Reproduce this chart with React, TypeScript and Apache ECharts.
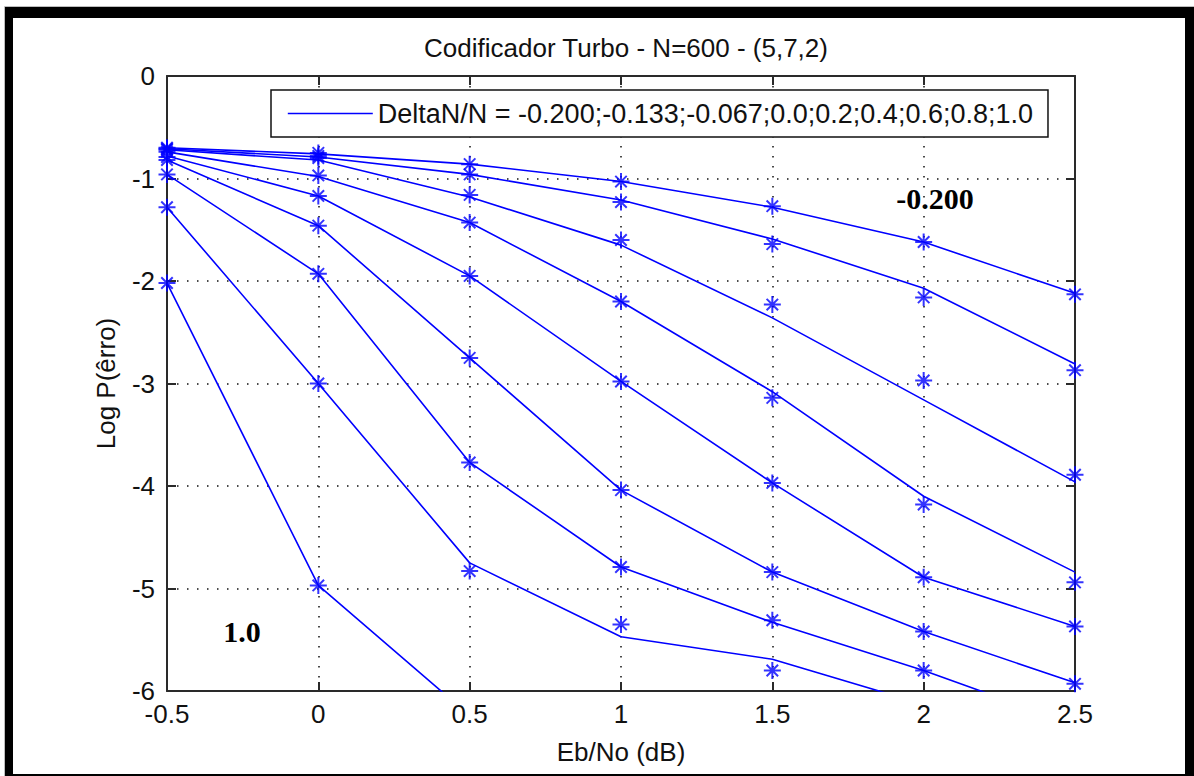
import React, { useEffect, useRef } from "react";
import * as echarts from "echarts";

// Eb/No (dB) sample points
const ebNo = [-0.5, 0, 0.5, 1, 1.5, 2, 2.5];

// DeltaN/N values of the nine curves
const deltaLabels = ["-0.200", "-0.133", "-0.067", "0.0", "0.2", "0.4", "0.6", "0.8", "1.0"];
const legendText = "DeltaN/N = -0.200;-0.133;-0.067;0.0;0.2;0.4;0.6;0.8;1.0";
const titleText = "Codificador Turbo - N=600 - (5,7,2)";

// measured points (asterisk markers), Log P(erro)
const measM0200 = [-0.70, -0.75, -0.86, -1.03, -1.27, -1.62, -2.13];
const measM0133 = [-0.71, -0.78, -0.96, -1.23, -1.64, -2.16, -2.87];
const measM0067 = [-0.72, -0.80, -1.16, -1.60, -2.23, -2.97, -3.89];
const meas0000 = [-0.74, -0.97, -1.43, -2.20, -3.14, -4.18, -4.94];
const meas0200 = [-0.79, -1.17, -1.95, -2.98, -3.97, -4.89, -5.37];
const meas0400 = [-0.82, -1.46, -2.75, -4.04, -4.84, -5.42, -5.93];
const meas0600 = [-0.96, -1.93, -3.77, -4.79, -5.31, -5.80, null];
const meas0800 = [-1.28, -3.00, -4.83, -5.35, -5.80, null, null];
const meas1000 = [-2.02, -4.97, null, null, null, null, null];

// fitted curves (solid lines)
const fitM0200 = [-0.70, -0.76, -0.86, -1.03, -1.28, -1.62, -2.12];
const fitM0133 = [-0.71, -0.79, -0.96, -1.21, -1.59, -2.07, -2.81];
const fitM0067 = [-0.72, -0.82, -1.18, -1.65, -2.36, -3.16, -3.96];
const fit0000 = [-0.74, -0.98, -1.43, -2.20, -3.08, -4.10, -4.84];
const fit0200 = [-0.78, -1.17, -1.95, -2.98, -3.97, -4.89, -5.37];
const fit0400 = [-0.82, -1.46, -2.75, -4.04, -4.84, -5.42, -5.92];
const fit0600 = [-0.96, -1.93, -3.77, -4.79, -5.33, -5.80, -6.33];
const fit0800 = [-1.28, -3.00, -4.75, -5.47, -5.69, -6.13, null];
const fit1000 = [-2.02, -4.97, -6.24, null, null, null, null];

const measured = [measM0200, measM0133, measM0067, meas0000, meas0200, meas0400, meas0600, meas0800, meas1000];
const fitted = [fitM0200, fitM0133, fitM0067, fit0000, fit0200, fit0400, fit0600, fit0800, fit1000];

const xTicks = { min: -0.5, max: 2.5, interval: 0.5 };
const yTicks = { min: -6, max: 0, interval: 1 };

const STAR = "path://M8,0L8,16M0,8L16,8M2.6,2.6L13.4,13.4M2.6,13.4L13.4,2.6";
const BLUE = "#0000ff";
const AXIS = "#2a2a2a";
const SANS = '"Liberation Sans", Arial, sans-serif';
const SERIF = '"Liberation Serif", "Times New Roman", serif';

function pairs(vals: (number | null)[]) {
  const out: [number, number][] = [];
  vals.forEach((v, i) => {
    if (v !== null) out.push([ebNo[i], v]);
  });
  return out;
}

export default function App() {
  const ref = useRef<HTMLDivElement>(null);

  useEffect(() => {
    if (!ref.current) return;
    const chart = echarts.init(ref.current, null, { renderer: "svg" });

    const series: any[] = [];
    fitted.forEach((f, i) => {
      series.push({
        type: "line",
        name: i === 0 ? legendText : "DeltaN/N = " + deltaLabels[i],
        data: pairs(f),
        symbol: "none",
        showSymbol: false,
        clip: true,
        lineStyle: { color: BLUE, width: 1.6 },
        itemStyle: { color: BLUE },
        silent: true,
        z: 3,
      });
    });
    measured.forEach((m, i) => {
      series.push({
        type: "scatter",
        name: "pontos " + deltaLabels[i],
        data: pairs(m),
        symbol: STAR,
        symbolSize: 17,
        clip: true,
        itemStyle: { color: BLUE, borderColor: BLUE, borderWidth: 2 },
        silent: true,
        z: 4,
      });
    });

    const dotted = { color: "#111", width: 1.5, type: [1.5, 8.5] as any };

    const baseX = {
      type: "value" as const,
      min: xTicks.min,
      max: xTicks.max,
      interval: xTicks.interval,
      axisLine: { show: true, onZero: false, lineStyle: { color: AXIS, width: 2 } },
      axisTick: { show: true, inside: true, length: 9, lineStyle: { color: AXIS, width: 2 } },
    };
    const baseY = {
      type: "value" as const,
      min: yTicks.min,
      max: yTicks.max,
      interval: yTicks.interval,
      axisLine: { show: true, onZero: false, lineStyle: { color: AXIS, width: 2 } },
      axisTick: { show: true, inside: true, length: 9, lineStyle: { color: AXIS, width: 2 } },
    };

    chart.setOption({
      animation: false,
      backgroundColor: "#ffffff",
      title: {
        text: titleText,
        left: 621,
        top: 30,
        textAlign: "center",
        textStyle: { fontFamily: SANS, fontSize: 26, fontWeight: "normal", color: "#111" },
      },
      legend: {
        data: [{ name: legendText }],
        left: 271,
        top: 90,
        orient: "horizontal",
        selectedMode: false,
        backgroundColor: "#ffffff",
        borderColor: "#111",
        borderWidth: 1.5,
        borderRadius: 0,
        padding: [10, 15, 10, 16],
        itemWidth: 85,
        itemHeight: 26,
        itemStyle: { opacity: 0 },
        lineStyle: { color: BLUE, width: 1.6, opacity: 1 },
        textStyle: { fontFamily: SANS, fontSize: 27, color: "#111" },
        z: 10,
      },
      grid: {
        left: 167,
        right: 119,
        top: 76,
        bottom: 85,
        containLabel: false,
        outerBoundsMode: "none",
      },
      xAxis: [
        {
          ...baseX,
          position: "bottom",
          name: "Eb/No (dB)",
          nameLocation: "middle",
          nameGap: 48,
          nameTextStyle: { fontFamily: SANS, fontSize: 26, color: "#111" },
          axisLabel: {
            show: true,
            margin: 10,
            fontFamily: SANS,
            fontSize: 26,
            color: "#111",
            showMinLabel: true,
            showMaxLabel: true,
          },
          splitLine: { show: true, lineStyle: dotted },
        },
        {
          ...baseX,
          position: "top",
          axisLabel: { show: false },
          splitLine: { show: false },
        },
      ],
      yAxis: [
        {
          ...baseY,
          position: "left",
          name: "Log P(êrro)",
          nameLocation: "middle",
          nameGap: 48,
          nameRotate: 90,
          nameTextStyle: { fontFamily: SANS, fontSize: 26, color: "#111" },
          axisLabel: {
            show: true,
            margin: 12,
            fontFamily: SANS,
            fontSize: 26,
            color: "#111",
            showMinLabel: true,
            showMaxLabel: true,
          },
          splitLine: { show: true, lineStyle: dotted },
        },
        {
          ...baseY,
          position: "right",
          axisLabel: { show: false },
          splitLine: { show: false },
        },
      ],
      series,
      graphic: [
        // annotation labels with white boxes
        {
          type: "group",
          z: 20,
          children: [
            { type: "rect", shape: { x: 865, y: 170, width: 155, height: 43 }, style: { fill: "#ffffff" } },
            {
              type: "text",
              x: 935,
              y: 198,
              style: {
                text: deltaLabels[0],
                font: "bold 30px " + SERIF,
                fill: "#000",
                textAlign: "center",
                align: "center",
                textVerticalAlign: "middle",
                verticalAlign: "middle",
              },
            },
          ],
        },
        {
          type: "group",
          z: 20,
          children: [
            { type: "rect", shape: { x: 202, y: 600, width: 91, height: 50 }, style: { fill: "#ffffff" } },
            {
              type: "text",
              x: 242,
              y: 631,
              style: {
                text: deltaLabels[8],
                font: "bold 30px " + SERIF,
                fill: "#000",
                textAlign: "center",
                align: "center",
                textVerticalAlign: "middle",
                verticalAlign: "middle",
              },
            },
          ],
        },
        // outer frame
        { type: "rect", z: 30, shape: { x: 4.5, y: 6.5, width: 1200, height: 800 }, style: { fill: "none", stroke: "#bdbdbd", lineWidth: 1 } },
        { type: "rect", z: 31, shape: { x: 5, y: 7, width: 1189, height: 11 }, style: { fill: "#000" } },
        { type: "rect", z: 31, shape: { x: 5, y: 7, width: 8, height: 769 }, style: { fill: "#000" } },
        { type: "rect", z: 31, shape: { x: 1185, y: 7, width: 9, height: 769 }, style: { fill: "#000" } },
        { type: "rect", z: 31, shape: { x: 5, y: 774, width: 1189, height: 2 }, style: { fill: "#000" } },
      ],
    });

    return () => chart.dispose();
  }, []);

  return (
    <div
      ref={ref}
      style={{ position: "absolute", left: 0, top: 0, width: 1194, height: 776, background: "#fff" }}
    />
  );
}
